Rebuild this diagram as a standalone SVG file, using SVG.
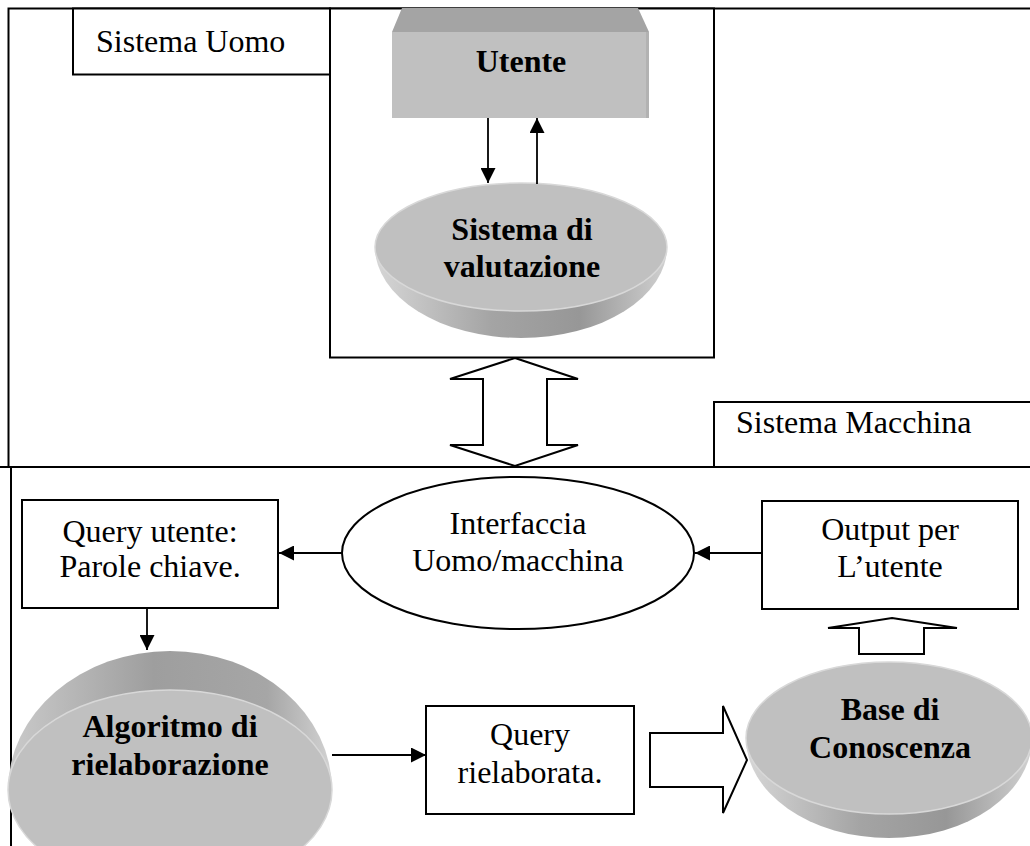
<svg xmlns="http://www.w3.org/2000/svg" width="1030" height="846" viewBox="0 0 1030 846">
<defs>
<style>
.ln{fill:none;stroke:#000;stroke-width:2}
.bx{fill:#fff;stroke:#000;stroke-width:2}
.conn{fill:none;stroke:#000;stroke-width:1.8}
.t{font-family:"Liberation Serif","Times New Roman",serif;font-size:32px;fill:#000}
.tb{font-family:"Liberation Serif","Times New Roman",serif;font-size:32px;font-weight:bold;fill:#000}
.face{fill:#c0c0c0;stroke:#d8d8d8;stroke-width:1.5}
</style>
<linearGradient id="side" x1="0" y1="0" x2="1" y2="0">
<stop offset="0" stop-color="#d6d6d6"/>
<stop offset="0.4" stop-color="#a4a4a4"/>
<stop offset="0.7" stop-color="#979797"/>
<stop offset="1" stop-color="#d0d0d0"/>
</linearGradient>
<linearGradient id="rim" x1="0" y1="0" x2="1" y2="0">
<stop offset="0" stop-color="#cacaca"/>
<stop offset="0.45" stop-color="#9e9e9e"/>
<stop offset="0.8" stop-color="#a6a6a6"/>
<stop offset="1" stop-color="#d2d2d2"/>
</linearGradient>
<marker id="ah" viewBox="0 0 10 10" refX="10" refY="5" markerWidth="16" markerHeight="15" markerUnits="userSpaceOnUse" orient="auto">
<path d="M0,0 L10,5 L0,10 z" fill="#000"/>
</marker>
</defs>
<rect width="1030" height="846" fill="#fff"/>

<g id="frame">
<path class="ln" d="M1030,8.5 H8.5 V467"/>
<path class="ln" d="M0,467 H1030"/>
<path class="ln" d="M11,467 V846"/>
</g>

<g id="sistema-uomo-label">
<rect class="bx" x="73" y="8.5" width="257" height="66"/>
<text class="t" x="96" y="52">Sistema Uomo</text>
</g>

<g id="sistema-uomo-box">
<rect class="bx" x="330" y="8.5" width="384" height="349" fill="none"/>
</g>

<g id="sistema-macchina-label">
<rect class="bx" x="714" y="402" width="330" height="65"/>
<text class="t" x="736" y="433">Sistema Macchina</text>
</g>

<g id="utente">
<polygon points="402,8 638,8 649,32 392,32" fill="#a4a4a4"/>
<rect x="392" y="32" width="257" height="86" fill="#c0c0c0"/>
<rect x="646" y="32" width="3" height="86" fill="#b2b2b2"/>
<text class="tb" x="521" y="72" text-anchor="middle">Utente</text>
</g>

<g id="sistema-valutazione">
<path d="M375,247 A146,91 0 0 0 667,247 Z" fill="url(#side)"/>
<ellipse class="face" cx="521" cy="247" rx="146" ry="64"/>
<text class="tb" x="522" y="240" text-anchor="middle">Sistema di</text>
<text class="tb" x="522" y="277" text-anchor="middle">valutazione</text>
</g>

<g id="double-arrow">
<polygon class="bx" points="515,358 578,379 547,379 547,445 578,445 515,466 450,445 483,445 483,379 450,379"/>
</g>

<g id="interfaccia">
<ellipse class="bx" cx="518" cy="553" rx="176" ry="76"/>
<text class="t" x="518" y="534" text-anchor="middle">Interfaccia</text>
<text class="t" x="518" y="571" text-anchor="middle">Uomo/macchina</text>
</g>

<g id="query-utente">
<rect class="bx" x="22" y="500" width="256" height="108"/>
<text class="t" x="150" y="542" text-anchor="middle">Query utente:</text>
<text class="t" x="150" y="577" text-anchor="middle">Parole chiave.</text>
</g>

<g id="output-utente">
<rect class="bx" x="762" y="501" width="256" height="108"/>
<text class="t" x="890" y="540" text-anchor="middle">Output per</text>
<text class="t" x="890" y="577" text-anchor="middle">L’utente</text>
</g>

<g id="algoritmo">
<path d="M8,790 A162,139 0 0 1 332,790 Z" fill="url(#rim)"/>
<ellipse class="face" cx="170" cy="790" rx="162" ry="100"/>
<text class="tb" x="170" y="737" text-anchor="middle">Algoritmo di</text>
<text class="tb" x="170" y="775" text-anchor="middle">rielaborazione</text>
</g>

<g id="query-rielaborata">
<rect class="bx" x="426" y="706" width="208" height="108"/>
<text class="t" x="530" y="745" text-anchor="middle">Query</text>
<text class="t" x="530" y="783" text-anchor="middle">rielaborata.</text>
</g>

<g id="base-conoscenza">
<path d="M746,738 A143,100 0 0 0 1032,738 Z" fill="url(#side)"/>
<ellipse class="face" cx="889" cy="738" rx="143" ry="76"/>
<text class="tb" x="890" y="720" text-anchor="middle">Base di</text>
<text class="tb" x="890" y="758" text-anchor="middle">Conoscenza</text>
</g>

<g id="connectors">
<line class="conn" x1="488" y1="118" x2="488" y2="183" marker-end="url(#ah)"/>
<line class="conn" x1="537" y1="184" x2="537" y2="118" marker-end="url(#ah)"/>
<line class="conn" x1="342" y1="553" x2="279" y2="553" marker-end="url(#ah)"/>
<line class="conn" x1="762" y1="553" x2="695" y2="553" marker-end="url(#ah)"/>
<line class="conn" x1="147" y1="608" x2="147" y2="650" marker-end="url(#ah)"/>
<line class="conn" x1="332" y1="755" x2="426" y2="755" marker-end="url(#ah)"/>
<polygon class="bx" points="892,618 957,628 924,628 924,654 859,654 859,628 828,628"/>
<polygon class="bx" points="650,733 723,733 723,706 747,760 723,813 723,787 650,787"/>
</g>
</svg>
